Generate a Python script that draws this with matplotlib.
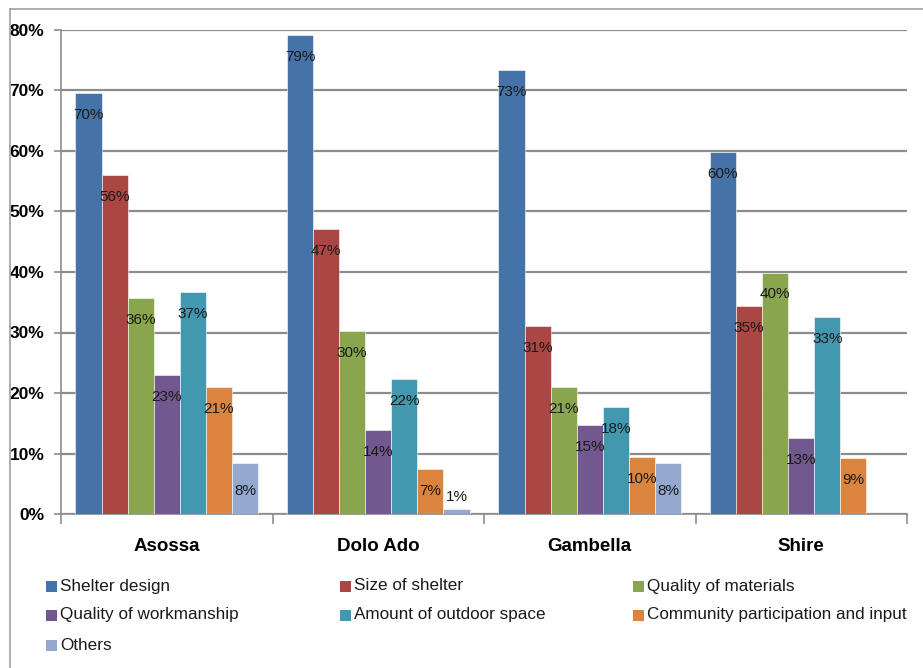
import matplotlib
matplotlib.use("Agg")
import matplotlib.pyplot as plt
from matplotlib.patches import Rectangle
from matplotlib.lines import Line2D
import numpy as np
from matplotlib import font_manager

categories = ["Asossa", "Dolo Ado", "Gambella", "Shire"]
series_names = ["Shelter design", "Size of shelter", "Quality of materials",
                "Quality of workmanship", "Amount of outdoor space",
                "Community participation and input", "Others"]
shelter_design = [69.6, 79.1, 73.4, 59.8]
size_of_shelter = [56.0, 47.1, 31.1, 34.4]
quality_materials = [35.7, 30.2, 21.0, 39.9]
quality_workmanship = [22.9, 13.9, 14.7, 12.6]
outdoor_space = [36.7, 22.3, 17.7, 32.6]
community = [21.0, 7.4, 9.4, 9.2]
others = [8.4, 0.8, 8.4, None]
labels = [
    ["70%", "79%", "73%", "60%"],
    ["56%", "47%", "31%", "35%"],
    ["36%", "30%", "21%", "40%"],
    ["23%", "14%", "15%", "13%"],
    ["37%", "22%", "18%", "33%"],
    ["21%", "7%", "10%", "9%"],
    ["8%", "1%", "8%", None],
]
yticks = [0, 10, 20, 30, 40, 50, 60, 70, 80]
colors = ["#4572A7", "#AA4643", "#89A54E", "#71588F", "#4198AF", "#DB843D", "#93A9CF"]

available = {f.name for f in font_manager.fontManager.ttflist}
fam = [f for f in ["Liberation Sans Narrow", "Liberation Sans", "DejaVu Sans"] if f in available]
plt.rcParams['font.family'] = fam

series = [shelter_design, size_of_shelter, quality_materials, quality_workmanship,
          outdoor_space, community, others]

W, H = 923, 668
fig = plt.figure(figsize=(W / 100, H / 100), dpi=100)
ax = fig.add_axes([61 / W, 1 - 514 / H, 846 / W, 484 / H])

bw = 0.1234
n = len(series)
x = np.arange(len(categories))
grid_c = "#8C8C8C"
for i, (vals, col) in enumerate(zip(series, colors)):
    off = (i - (n - 1) / 2) * bw
    for j, v in enumerate(vals):
        if v is None:
            continue
        xc = x[j] + off
        ax.bar(xc, v, width=bw, color=col, edgecolor="white", linewidth=0.4, zorder=3)
        lab = labels[i][j]
        if lab is None:
            continue
        if v < 3:
            ax.text(xc, v + 2.0, lab, ha="center", va="center", fontsize=11, color="#1a1a1a", zorder=4)
        else:
            dy = 4.6 if i == 6 else 3.6
            ax.text(xc, v - dy, lab, ha="center", va="center", fontsize=11, color="#1a1a1a", zorder=4)

ax.set_xlim(-0.5, 3.5)
ax.set_ylim(0, 80)
ax.set_yticks(yticks)
ax.set_yticklabels([f"{t}%" for t in yticks], fontsize=12.5, fontweight="bold")
ax.yaxis.grid(True, color=grid_c, linewidth=1.6, zorder=0)
ax.set_axisbelow(True)
ax.set_xticks([-0.5, 0.5, 1.5, 2.5, 3.5])
ax.set_xticklabels([])
ax.set_xticks(x, minor=True)
ax.set_xticklabels(categories, minor=True, fontsize=13.5, fontweight="bold")
ax.tick_params(axis="x", which="major", length=7, color=grid_c, width=1.2)
ax.tick_params(axis="x", which="minor", length=0, pad=17)
ax.tick_params(axis="y", length=5, color=grid_c, width=1.2, pad=7)
for s in ["top", "right"]:
    ax.spines[s].set_visible(False)
for s in ["left", "bottom"]:
    ax.spines[s].set_color(grid_c)
    ax.spines[s].set_linewidth(1.2)

# outer chart border (top and left)
fig.add_artist(Line2D([10 / W, 1.0], [1 - 9 / H, 1 - 9 / H], transform=fig.transFigure,
                      color="#A0A0A0", linewidth=1.2))
fig.add_artist(Line2D([10 / W, 10 / W], [0, 1 - 9 / H], transform=fig.transFigure,
                      color="#A0A0A0", linewidth=1.2))

# legend, row-wise in 3 columns
col_x = [46, 340, 633]
row_y = [586, 615, 645]
sq = 11
for k, (name, c) in enumerate(zip(series_names, colors)):
    r, cidx = divmod(k, 3)
    x0 = col_x[cidx]
    yc = row_y[r]
    fig.add_artist(Rectangle((x0 / W, 1 - (yc + sq / 2) / H), sq / W, sq / H,
                             transform=fig.transFigure, facecolor=c, edgecolor="none"))
    fig.text((x0 + 14) / W, 1 - yc / H, name, ha="left", va="center", fontsize=12.3,
             color="#1a1a1a")

fig.savefig("out.png", dpi=100)
